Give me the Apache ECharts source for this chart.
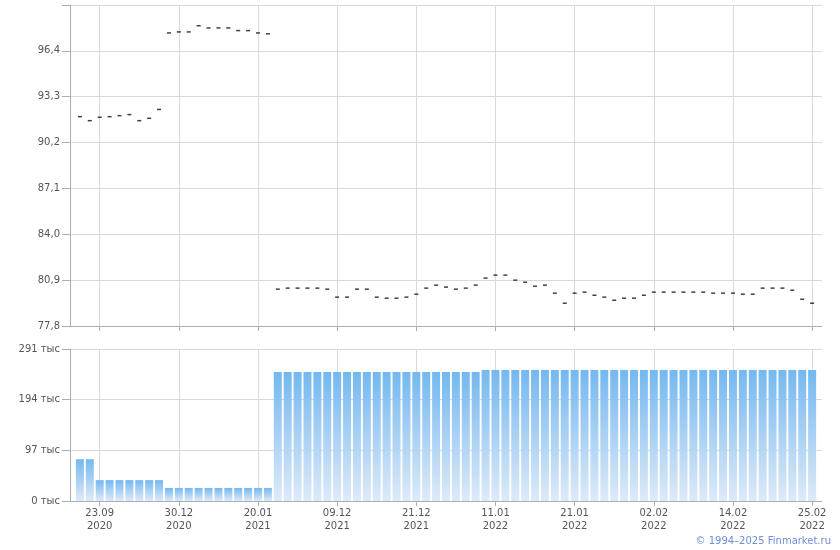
<!DOCTYPE html>
<html><head><meta charset="utf-8">
<script src="https://cdn.jsdelivr.net/npm/echarts@6/dist/echarts.min.js"></script>
<style>html,body{margin:0;padding:0;background:#fff}#c{width:840px;height:550px}</style>
</head><body><div id="c"></div>
<script>
// Price (close) per trading point, index 0..74
const prices = [
  91.95, 91.68, 91.91, 91.95, 92.02, 92.09, 91.68, 91.84, 92.44,
  97.61, 97.68, 97.68, 98.10, 97.95, 97.95, 97.95, 97.77, 97.77, 97.61, 97.55,
  80.29, 80.36, 80.36, 80.36, 80.36, 80.29, 79.75, 79.75, 80.29, 80.29,
  79.75, 79.68, 79.68, 79.75, 79.95, 80.36, 80.56, 80.43, 80.29, 80.36,
  80.56, 81.04, 81.24, 81.24, 80.90, 80.76, 80.49, 80.56, 80.02, 79.34,
  80.02, 80.09, 79.88, 79.75, 79.54, 79.68, 79.68, 79.88, 80.09, 80.09,
  80.09, 80.09, 80.09, 80.09, 80.02, 80.02, 80.02, 79.95, 79.95, 80.36,
  80.36, 80.36, 80.22, 79.61, 79.34
];
// Volume (тыс), index 0..74
const volumes = [
  80, 80,
  40, 40, 40, 40, 40, 40, 40,
  25, 25, 25, 25, 25, 25, 25, 25, 25, 25, 25,
  247, 247, 247, 247, 247, 247, 247, 247, 247, 247,
  247, 247, 247, 247, 247, 247, 247, 247, 247, 247, 247,
  251, 251, 251, 251, 251, 251, 251, 251, 251, 251,
  251, 251, 251, 251, 251, 251, 251, 251, 251, 251,
  251, 251, 251, 251, 251, 251, 251, 251, 251, 251,
  251, 251, 251, 251
];
// x tick labels and the point index they sit on
const tickIndex = [2, 10, 18, 26, 34, 42, 50, 58, 66, 74];
const tickDates = ['23.09', '30.12', '20.01', '09.12', '21.12', '11.01', '21.01', '02.02', '14.02', '25.02'];
const tickYears = ['2020', '2020', '2021', '2021', '2021', '2022', '2022', '2022', '2022', '2022'];
const priceTicks = [77.8, 80.9, 84.0, 87.1, 90.2, 93.3, 96.4, 99.5];
const priceLabels = [77.8, 80.9, 84.0, 87.1, 90.2, 93.3, 96.4];

const FONT = 'DejaVu Sans';
const axisCol = '#a9adb8';
const gridCol = '#d6dadf';
const txtCol = '#555555';

const chart = echarts.init(document.getElementById('c'), null, {renderer: 'canvas'});
function xAxisCfg(gi, showLabel) {
  return {
    type: 'value', gridIndex: gi, min: -1, max: 75,
    axisLine: {show: true, onZero: false, lineStyle: {color: axisCol, width: 1}},
    axisTick: {show: true, length: 5, customValues: tickIndex, lineStyle: {color: axisCol}},
    axisLabel: {
      show: showLabel, customValues: tickIndex, color: txtCol, fontFamily: FONT, fontSize: 10,
      lineHeight: 13, margin: 6,
      formatter: v => { const k = tickIndex.indexOf(Math.round(v)); return k < 0 ? '' : tickDates[k] + '\n' + tickYears[k]; }
    },
    splitLine: {show: true, lineStyle: {color: gridCol, width: 1}}
  };
}
chart.setOption({
  animation: false,
  backgroundColor: '#ffffff',
  grid: [
    {left: 70, right: 18, top: 5, height: 321, containLabel: false, outerBoundsMode: 'none'},
    {left: 70, right: 18, top: 349, height: 152, containLabel: false, outerBoundsMode: 'none'}
  ],
  xAxis: [xAxisCfg(0, false), xAxisCfg(1, true)],
  yAxis: [
    {
      type: 'value', gridIndex: 0, min: 77.8, max: 99.5,
      axisLine: {show: true, onZero: false, lineStyle: {color: axisCol}},
      axisTick: {show: true, length: 8, customValues: priceTicks, lineStyle: {color: axisCol}},
      axisLabel: {customValues: priceLabels, color: txtCol, fontFamily: FONT, fontSize: 10, margin: 10,
        formatter: v => v.toFixed(1).replace('.', ',')},
      splitLine: {show: true, lineStyle: {color: gridCol}}
    },
    {
      type: 'value', gridIndex: 1, min: 0, max: 291, interval: 97,
      axisLine: {show: true, onZero: false, lineStyle: {color: axisCol}},
      axisTick: {show: true, length: 8, lineStyle: {color: axisCol}},
      axisLabel: {color: txtCol, fontFamily: FONT, fontSize: 10, margin: 10,
        formatter: v => v + ' тыс'},
      splitLine: {show: true, lineStyle: {color: gridCol}}
    }
  ],
  series: [
    {
      type: 'scatter', xAxisIndex: 0, yAxisIndex: 0,
      symbol: 'rect', symbolSize: [4, 1.5],
      itemStyle: {color: '#111111'},
      data: prices.map((p, i) => [i, p])
    },
    {
      type: 'bar', xAxisIndex: 1, yAxisIndex: 1, barWidth: 8,
      itemStyle: {color: new echarts.graphic.LinearGradient(0, 0, 0, 1, [
        {offset: 0, color: '#74b8f0'}, {offset: 1, color: '#deeaf8'}])},
      data: volumes.map((v, i) => [i, v])
    }
  ],
  graphic: [{
    type: 'text', right: 9, top: 536,
    style: {text: '© 1994–2025 Finmarket.ru', fill: '#6f8fd6', font: '10px "DejaVu Sans"'}
  }]
});
</script></body></html>
